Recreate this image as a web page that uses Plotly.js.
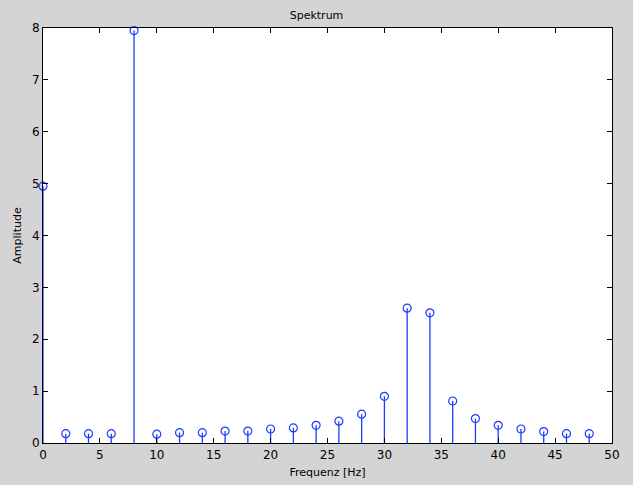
<!DOCTYPE html>
<html>
<head>
<meta charset="utf-8">
<script src="https://cdn.plot.ly/plotly-3.0.1.min.js"></script>
<style>html,body{margin:0;padding:0;background:#d4d4d4;}</style>
</head>
<body>
<div id="chart" style="width:633px;height:485px;"></div>
<script>
const freq = [0, 2, 4, 6, 8, 10, 12, 14, 16, 18, 20, 22, 24, 26, 28, 30, 32, 34, 36, 38, 40, 42, 44, 46, 48];
const amplitude = [4.95, 0.18, 0.18, 0.18, 7.95, 0.17, 0.20, 0.20, 0.23, 0.23, 0.27, 0.29, 0.34, 0.42, 0.555, 0.90, 2.60, 2.51, 0.81, 0.47, 0.34, 0.27, 0.22, 0.18, 0.18];

const stemX = [], stemY = [];
freq.forEach((f, i) => { stemX.push(f, f, null); stemY.push(0, amplitude[i], null); });

const blue = '#1a3cff';
const data = [
  {x: stemX, y: stemY, type: 'scatter', mode: 'lines', line: {color: blue, width: 1.3}, hoverinfo: 'skip', cliponaxis: false},
  {x: freq, y: amplitude, type: 'scatter', mode: 'markers', marker: {symbol: 'circle-open', size: 8, color: blue, line: {width: 1.2, color: blue}}, cliponaxis: false}
];

const axisCommon = {
  showline: true, linecolor: '#000', linewidth: 1, mirror: 'allticks',
  ticks: 'inside', ticklen: 5, tickcolor: '#000', tickwidth: 1,
  showgrid: false, zeroline: false,
  tickfont: {family: 'DejaVu Sans, Arial, sans-serif', size: 12, color: '#000'}
};

const layout = {
  width: 633, height: 485,
  paper_bgcolor: '#d4d4d4', plot_bgcolor: '#ffffff',
  margin: {l: 43, r: 21, t: 28, b: 42},
  showlegend: false,
  title: {text: 'Spektrum', font: {family: 'DejaVu Sans, Arial, sans-serif', size: 11, color: '#000'}, x: 0.5, xanchor: 'center', y: 0.968, yanchor: 'middle'},
  xaxis: Object.assign({}, axisCommon, {range: [0, 50], tickvals: [0,5,10,15,20,25,30,35,40,45,50], ticklabelstandoff: 1,
    title: {text: 'Frequenz [Hz]', font: {family: 'DejaVu Sans, Arial, sans-serif', size: 11, color: '#000'}, standoff: 6}}),
  yaxis: Object.assign({}, axisCommon, {range: [0, 8], tickvals: [0,1,2,3,4,5,6,7,8],
    title: {text: 'Amplitude', font: {family: 'DejaVu Sans, Arial, sans-serif', size: 11, color: '#000'}, standoff: 8}})
};

Plotly.newPlot('chart', data, layout, {displayModeBar: false, staticPlot: true});
</script>
</body>
</html>
